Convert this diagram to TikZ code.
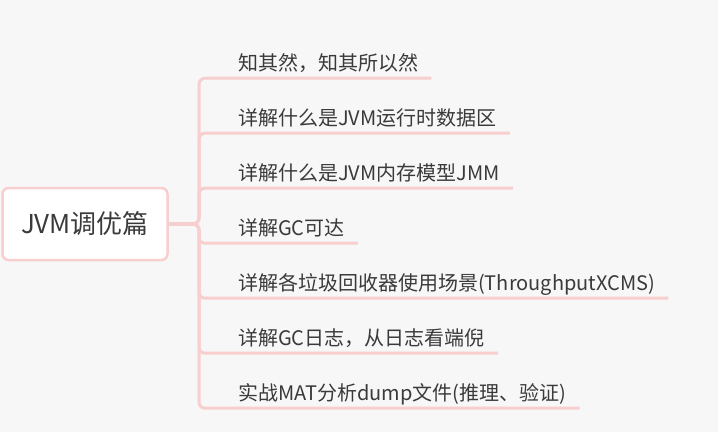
\documentclass[tikz,border=0pt]{standalone}
\usepackage{fontspec}
\newfontfamily\cjk{Noto Sans CJK SC}
\usetikzlibrary{positioning}
\definecolor{blush}{HTML}{F8CFCF}
\definecolor{ink}{HTML}{3A3A3A}
\definecolor{canvas}{HTML}{F7F7F7}

\begin{document}
\begin{tikzpicture}[
    x=1pt, y=-1pt,
    topic/.style={rectangle, rounded corners=6pt, draw=blush, line width=2.5pt, fill=white, minimum width=165pt, minimum height=72pt, text=ink, font=\cjk\fontsize{26}{30}\selectfont},
    leaf/.style={anchor=base west, inner xsep=0pt, inner ysep=4pt, text depth=4pt, text=ink, font=\cjk\fontsize{20}{24}\selectfont},
    branch/.style={draw=blush, line width=3pt, rounded corners=6pt},
  ]
  \fill[canvas] (0,0) rectangle (718,432);
  \useasboundingbox (0,0) rectangle (718,432);

  \node[topic] (jvm) at (85,224) {JVM调优篇};
  \coordinate (fork) at (199,224);

  \node[leaf] (why)   at (238,70)  {知其然，知其所以然};
  \node[leaf] (area)  at (238,125) {详解什么是JVM运行时数据区};
  \node[leaf] (jmm)   at (238,180) {详解什么是JVM内存模型JMM};
  \node[leaf] (reach) at (238,235) {详解GC可达};
  \node[leaf] (coll)  at (238,290) {详解各垃圾回收器使用场景(ThroughputXCMS)};
  \node[leaf] (log)   at (238,345) {详解GC日志，从日志看端倪};
  \node[leaf] (mat)   at (238,400) {实战MAT分析dump文件(推理、验证)};

  \foreach \leafname in {why, area, jmm, reach, coll, log, mat}
    \draw[branch] (jvm.east) -- (fork) |- ([xshift=13pt]\leafname.south east);
\end{tikzpicture}
\end{document}
